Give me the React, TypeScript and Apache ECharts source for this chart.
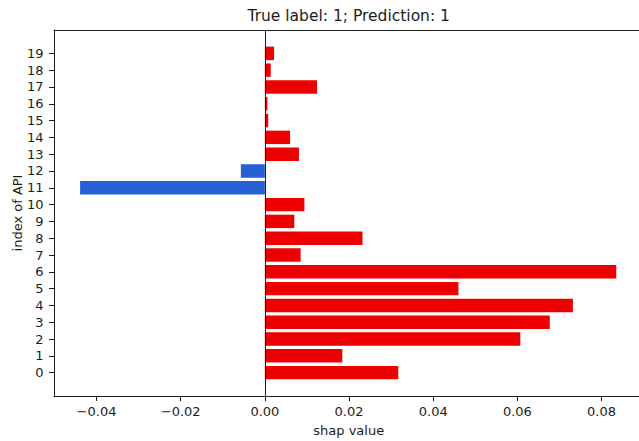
import React, { useEffect, useRef } from "react";
import * as echarts from "echarts";

const yTicks = [0, 1, 2, 3, 4, 5, 6, 7, 8, 9, 10, 11, 12, 13, 14, 15, 16, 17, 18, 19];
const shapValues = [
  0.0317, 0.0184, 0.0607, 0.0677, 0.0732, 0.046, 0.0835, 0.0085, 0.0232, 0.007,
  0.0094, -0.0439, -0.0057, 0.0081, 0.006, 0.0008, 0.0006, 0.0124, 0.0014, 0.0022,
];
const xTicks = [-0.04, -0.02, 0, 0.02, 0.04, 0.06, 0.08];
const titleText = "True label: 1; Prediction: 1";
const xName = "shap value";
const yName = "index of API";

const RED = "#ec0000";
const BLUE = "#2660d2";
const INK = "#1c1c1c";
const FONT = "DejaVu Sans";

export default function App() {
  const ref = useRef<HTMLDivElement>(null);
  useEffect(() => {
    if (!ref.current) return;
    const chart = echarts.init(ref.current, undefined, { renderer: "svg" });
    const fmt = (v: number) => (v < 0 ? "\u2212" : "") + Math.abs(v).toFixed(2);
    const X_MIN = -0.0501;
    const X_MAX = 0.0889;
    chart.setOption({
      animation: false,
      backgroundColor: "#ffffff",
      textStyle: { fontFamily: FONT },
      grid: {
        left: 54,
        top: 30,
        right: 0,
        bottom: 45,
        show: false,
      },
      xAxis: [
        {
          type: "value",
          position: "bottom",
          min: X_MIN,
          max: X_MAX,
          splitLine: { show: false },
          axisLine: { show: true, onZero: false, lineStyle: { color: INK, width: 1 } },
          axisTick: { show: true, length: 5, customValues: xTicks, lineStyle: { color: INK } },
          axisLabel: {
            customValues: xTicks,
            formatter: fmt,
            color: INK,
            fontSize: 13,
            fontFamily: FONT,
            margin: 9,
          },
        },
        {
          type: "value",
          position: "top",
          min: X_MIN,
          max: X_MAX,
          splitLine: { show: false },
          axisLine: { show: true, onZero: false, lineStyle: { color: INK, width: 1 } },
          axisTick: { show: false },
          axisLabel: { show: false },
        },
      ],
      yAxis: {
        type: "value",
        position: "left",
        min: -1.39,
        max: 20.39,
        splitLine: { show: false },
        axisLine: { show: true, onZero: false, lineStyle: { color: INK, width: 1 } },
        axisTick: { show: true, length: 5, customValues: yTicks, lineStyle: { color: INK } },
        axisLabel: {
          customValues: yTicks,
          formatter: (v: number) => String(Math.round(v)),
          color: INK,
          fontSize: 13,
          fontFamily: FONT,
          margin: 10.5,
        },
      },
      graphic: [
        {
          type: "text",
          x: 348.7,
          y: 15.5,
          style: {
            text: titleText,
            fontSize: 15.5,
            fontFamily: FONT,
            fill: INK,
            align: "center",
            verticalAlign: "middle",
          },
        },
        {
          type: "text",
          x: 348.7,
          y: 430,
          style: {
            text: xName,
            fontSize: 13,
            fontFamily: FONT,
            fill: INK,
            align: "center",
            verticalAlign: "middle",
          },
        },
        {
          type: "text",
          x: 17,
          y: 213,
          rotation: Math.PI / 2,
          style: {
            text: yName,
            fontSize: 13,
            fontFamily: FONT,
            fill: INK,
            align: "center",
            verticalAlign: "middle",
          },
        },
      ],
      series: [
        {
          type: "custom",
          xAxisIndex: 0,
          data: shapValues.map((v, i) => [v, yTicks[i]]),
          encode: { x: 0, y: 1 },
          renderItem: (_params: any, api: any) => {
            const v = api.value(0);
            const idx = api.value(1);
            const p0 = api.coord([0, idx]);
            const p1 = api.coord([v, idx]);
            const h = api.size([0, 0.8])[1];
            return {
              type: "rect",
              shape: {
                x: Math.min(p0[0], p1[0]),
                y: p0[1] - h / 2,
                width: Math.abs(p1[0] - p0[0]),
                height: h,
              },
              style: { fill: v < 0 ? BLUE : RED },
            };
          },
        },
        {
          type: "line",
          xAxisIndex: 0,
          data: [],
          markLine: {
            silent: true,
            symbol: "none",
            label: { show: false },
            lineStyle: { color: INK, width: 1, type: "solid" },
            data: [{ xAxis: 0 }],
          },
        },
      ],
    });
    return () => chart.dispose();
  }, []);
  return (
    <div
      ref={ref}
      style={{ position: "fixed", left: 0, top: 0, width: 639, height: 441 }}
    />
  );
}
